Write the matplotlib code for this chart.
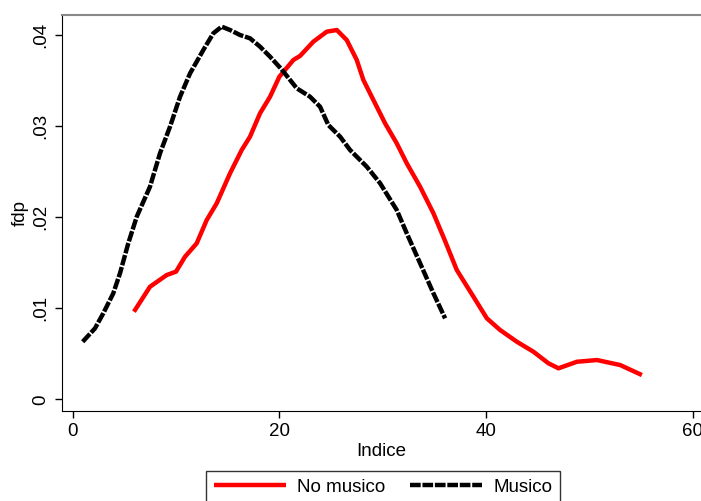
import matplotlib
matplotlib.use("Agg")
import matplotlib.pyplot as plt

plt.rcParams['font.family'] = ['Liberation Sans', 'DejaVu Sans']

# kernel density curves
musico_x = [0.97, 2.16, 2.96, 3.93, 4.58, 5.38, 6.2, 7.48, 8.45, 9.42, 10.39, 11.36,
            12.64, 13.61, 14.42, 15.23, 16.2, 17.16, 18.13, 19.1, 20.2, 21.68, 22.97,
            23.94, 24.74, 25.88, 26.84, 28.46, 29.75, 31.36, 32.33, 33.62, 34.91, 36.04]
musico_y = [0.00633, 0.0078, 0.00945, 0.01165, 0.01385, 0.01714, 0.02007, 0.02336,
            0.02703, 0.02996, 0.03325, 0.03582, 0.03838, 0.04022, 0.04095, 0.04058,
            0.04003, 0.03967, 0.03875, 0.03765, 0.03628, 0.03418, 0.03325, 0.03215,
            0.03014, 0.02886, 0.0274, 0.02556, 0.02374, 0.0208, 0.01824, 0.01495,
            0.01165, 0.0089]

nomusico_x = [5.93, 7.48, 9.1, 10.0, 10.87, 12.0, 12.97, 13.94, 15.23, 16.36, 17.16,
              18.13, 19.1, 20.0, 21.36, 22.0, 23.29, 24.59, 25.56, 26.52, 27.49, 28.13,
              29.1, 30.23, 31.36, 32.33, 33.62, 34.91, 36.0, 37.17, 38.78, 40.08, 41.36,
              42.98, 44.59, 46.04, 47.01, 48.79, 50.73, 52.98, 55.08]
nomusico_y = [0.00963, 0.01237, 0.01366, 0.01403, 0.01567, 0.01714, 0.0197, 0.02154,
              0.02484, 0.0274, 0.02886, 0.03143, 0.03325, 0.03545, 0.03729, 0.03773,
              0.0393, 0.0404, 0.04058, 0.03948, 0.03729, 0.03509, 0.03289, 0.03033,
              0.02813, 0.02593, 0.02336, 0.02044, 0.0175, 0.01421, 0.01128, 0.0089,
              0.00762, 0.00633, 0.00523, 0.00396, 0.00341, 0.00413, 0.00432, 0.00377,
              0.00267]

x_ticks = [0, 20, 40, 60]
y_ticks = [0, 0.01, 0.02, 0.03, 0.04]
y_tick_labels = ['0', '.01', '.02', '.03', '.04']

fs = 13.5

fig = plt.figure(figsize=(7.01, 5.01), dpi=100)
ax = fig.add_axes([61.5 / 701, 90 / 501, 639.5 / 701, 396 / 501])

ax.plot(nomusico_x, nomusico_y, color='#ff0000', lw=3.2, label='No musico',
        solid_capstyle='butt', solid_joinstyle='round')
ax.plot(musico_x, musico_y, color='black', lw=3.2, dashes=(2.4, 0.4), label='Musico',
        dash_capstyle='butt', dash_joinstyle='round')

ax.set_xlim(-1.08, 60.8)
ax.set_ylim(-0.00128, 0.04223)
ax.set_xticks(x_ticks)
ax.set_yticks(y_ticks)
ax.set_yticklabels(y_tick_labels, rotation=90, va='center')
ax.tick_params(labelsize=fs, length=5, width=1, pad=4)
ax.set_xlabel('Indice', fontsize=fs, labelpad=2)
ax.set_ylabel('fdp', fontsize=fs, labelpad=2)

ax.spines['right'].set_visible(False)
ax.spines['top'].set_color('#888888')
ax.spines['top'].set_linewidth(1.5)

leg = fig.legend(loc='upper center', bbox_to_anchor=(383 / 701, 30 / 501), ncol=2,
                 fontsize=fs, handlelength=3.85, columnspacing=1.3, frameon=True,
                 fancybox=False, borderpad=0.4, handletextpad=0.6, borderaxespad=0)
leg.get_frame().set_edgecolor('black')
leg.get_frame().set_linewidth(1)

fig.savefig('out.png', dpi=100)
